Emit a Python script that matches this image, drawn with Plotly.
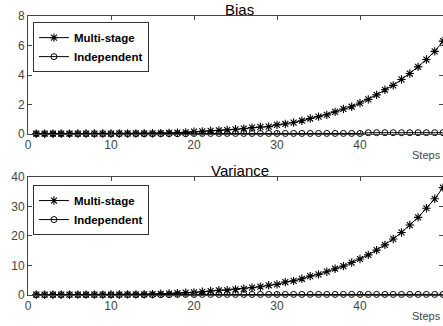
import plotly.graph_objects as go
from plotly.subplots import make_subplots

steps = list(range(1, 51))
bias_multi = [0.02, 0.02, 0.02, 0.02, 0.02, 0.03, 0.03, 0.03, 0.03, 0.03,
              0.04, 0.04, 0.04, 0.05, 0.05, 0.06, 0.07, 0.09, 0.11, 0.16,
              0.18, 0.22, 0.25, 0.27, 0.32, 0.36, 0.43, 0.48, 0.50, 0.62,
              0.68, 0.78, 0.90, 1.05, 1.18, 1.30, 1.50, 1.70, 1.85, 2.10,
              2.35, 2.65, 3.00, 3.30, 3.70, 4.10, 4.55, 5.05, 5.60, 6.30]
bias_indep = [0.02] * 19 + [0.04] * 21 + [0.09] * 10
var_multi = [0.10, 0.10, 0.10, 0.10, 0.10, 0.12, 0.12, 0.13, 0.14, 0.15,
             0.17, 0.20, 0.22, 0.25, 0.30, 0.40, 0.50, 0.65, 0.80, 0.90,
             1.10, 1.35, 1.60, 1.60, 1.90, 2.10, 2.50, 2.80, 3.30, 3.60,
             4.40, 4.80, 5.50, 6.40, 7.00, 7.90, 8.90, 9.80, 11.0, 12.2,
             13.6, 15.2, 17.0, 19.0, 21.2, 23.7, 26.3, 29.4, 32.6, 36.4]
var_indep = [0.1] * 17 + [0.2] * 33

fig = make_subplots(rows=2, cols=1, vertical_spacing=0.154)

def add(row, multi, indep):
    leg = "legend" if row == 1 else "legend2"
    fig.add_trace(go.Scatter(x=steps, y=multi, mode="lines+markers", name="Multi-stage",
                             line=dict(color="black", width=1),
                             marker=dict(symbol="asterisk-open", size=7,
                                         line=dict(color="black", width=1.1)),
                             legend=leg, cliponaxis=False),
                  row=row, col=1)
    fig.add_trace(go.Scatter(x=steps, y=indep, mode="lines+markers", name="Independent",
                             line=dict(color="black", width=1),
                             marker=dict(symbol="circle-open", size=6,
                                         line=dict(color="black", width=1)),
                             legend=leg, cliponaxis=False),
                  row=row, col=1)

add(1, bias_multi, bias_indep)
add(2, var_multi, var_indep)

axis_common = dict(showline=True, linecolor="#444", linewidth=1, mirror="ticks",
                   ticks="inside", ticklen=4, tickcolor="#444", showgrid=False,
                   zeroline=False, automargin=False,
                   tickfont=dict(family="Liberation Sans", size=12, color="#444"))

fig.update_xaxes(range=[0, 50], dtick=10, **axis_common)
fig.update_yaxes(**axis_common)
fig.update_yaxes(range=[0, 8], dtick=2, row=1, col=1)
fig.update_yaxes(range=[0, 40], dtick=10, row=2, col=1)
fig.update_layout(
    xaxis=dict(domain=[0, 1]), yaxis=dict(domain=[0.577, 1]),
    yaxis2=dict(domain=[0, 0.423]),
)

legend_style = dict(bgcolor="white", bordercolor="#333", borderwidth=1,
                    font=dict(family="Liberation Sans", size=11.5, color="black", weight="bold"),
                    xanchor="left", yanchor="top", tracegroupgap=0,
                    itemwidth=30)
fig.update_layout(
    legend=dict(x=0.012, y=0.978, **legend_style),
    legend2=dict(x=0.012, y=0.394, **legend_style),
)

fig.add_annotation(text="Bias", x=0.51, y=1.0, xref="paper", yref="paper",
                   xanchor="center", yanchor="bottom", showarrow=False, yshift=-4,
                   font=dict(family="Liberation Sans", size=15, color="black"))
fig.add_annotation(text="Variance", x=0.51, y=0.423, xref="paper", yref="paper",
                   xanchor="center", yanchor="bottom", showarrow=False, yshift=-4,
                   font=dict(family="Liberation Sans", size=15, color="black"))
fig.add_annotation(text="Steps", x=1.0, y=0.577, xref="paper", yref="paper",
                   xanchor="right", yanchor="top", showarrow=False, yshift=-13,
                   font=dict(family="Liberation Sans", size=11, color="#444"))
fig.add_annotation(text="Steps", x=1.0, y=0.0, xref="paper", yref="paper",
                   xanchor="right", yanchor="top", showarrow=False, yshift=-13,
                   font=dict(family="Liberation Sans", size=11, color="#444"))

fig.update_layout(width=443, height=326, margin=dict(l=28, r=0, t=16, b=31),
                  paper_bgcolor="white", plot_bgcolor="white")

fig.write_html("out.html", config={"displayModeBar": False},
               post_script="document.body.style.margin='0';document.body.style.overflow='hidden';")
